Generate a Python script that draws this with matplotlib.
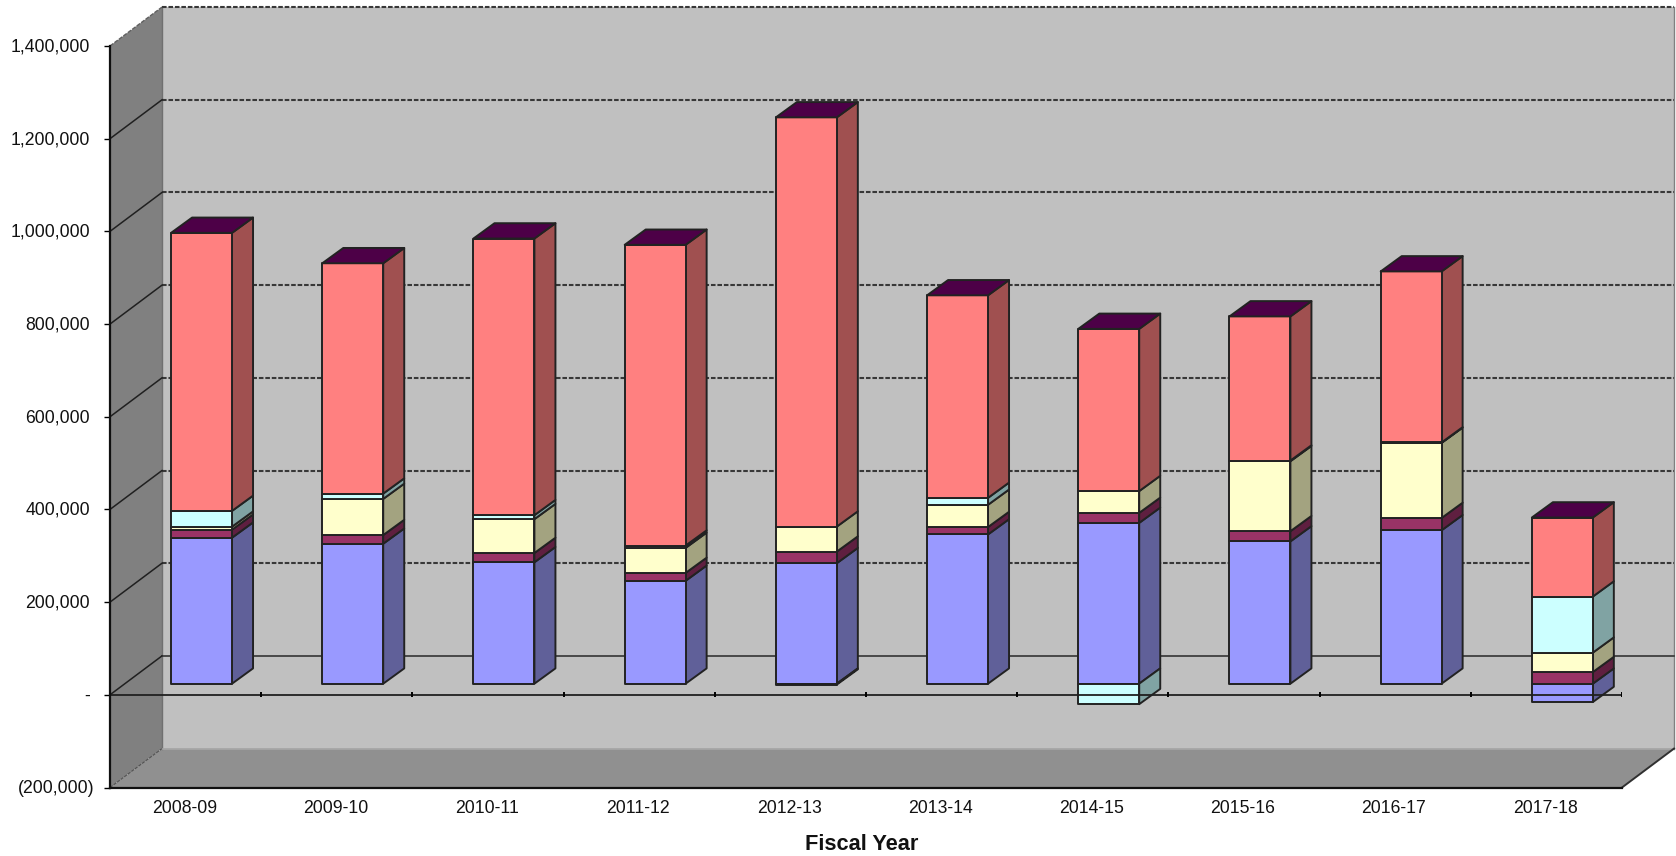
import matplotlib
matplotlib.use('Agg')
import matplotlib.pyplot as plt
from matplotlib.ticker import FuncFormatter
from matplotlib.transforms import ScaledTranslation

plt.rcParams['font.family'] = ['Liberation Sans', 'DejaVu Sans']

years = ['2008-09', '2009-10', '2010-11', '2011-12', '2012-13',
         '2013-14', '2014-15', '2015-16', '2016-17', '2017-18']

# stacked series, bottom to top
blue = [315000, 302000, 262000, 222000, 260000, 322000, 347000, 307000, 331000, -39700]
maroon = [17300, 18700, 20000, 17000, 25000, 16000, 21600, 22000, 26600, 25000]
yellow = [6500, 78000, 73000, 54000, 54000, 48000, 47000, 151000, 162000, 42000]
cyan = [34000, 11500, 8600, 5000, -2000, 15000, -44200, 1500, 1000, 121000]
red = [600000, 497000, 597000, 649000, 883000, 437000, 350000, 311000, 369000, 170600]

series = [
    (blue, '#9999FF', '#606099'),
    (maroon, '#993366', '#5F1F40'),
    (yellow, '#FFFFCC', '#A3A380'),
    (cyan, '#CCFFFF', '#80A3A3'),
    (red, '#FF8080', '#A05050'),
]
top_color = '#4D0047'

y_ticks = [-200000, 0, 200000, 400000, 600000, 800000, 1000000, 1200000, 1400000]

# oblique depth, in axis units
wall_dx, wall_dy = 0.344, 84000
plane_dx, plane_dy = 0.106, 24000
bar_dx, bar_dy = 0.139, 33000
bar_w = 0.403
y_min, y_max = -200000, 1400000


def fmt_value(v, pos=None):
    if v == 0:
        return '-'
    if v < 0:
        return '({:,.0f})'.format(-v)
    return '{:,.0f}'.format(v)


W, H = 1676, 856
fig = plt.figure(figsize=(W / 100, H / 100), dpi=100, facecolor='white')
ax = fig.add_axes([110 / W, 1 - 787.5 / H, (1622 - 110) / W, (787.5 - 46) / H])
ax.set_xlim(0, len(years))
ax.set_ylim(y_min, y_max)
ax.patch.set_visible(False)

# walls
ax.fill([wall_dx, 10 + wall_dx, 10 + wall_dx, wall_dx],
        [y_min + wall_dy, y_min + wall_dy, y_max + wall_dy, y_max + wall_dy],
        color='#C0C0C0', lw=0, clip_on=False, zorder=1)
ax.fill([0, wall_dx, wall_dx, 0],
        [y_min, y_min + wall_dy, y_max + wall_dy, y_max],
        color='#808080', lw=0, clip_on=False, zorder=1)
ax.fill([0, 10, 10 + wall_dx, wall_dx],
        [y_min, y_min, y_min + wall_dy, y_min + wall_dy],
        color='#909090', lw=0, clip_on=False, zorder=1)

# wall edges
ax.plot([wall_dx, wall_dx], [y_min + wall_dy, y_max + wall_dy], color='#707070', lw=1.0, clip_on=False, zorder=2)
ax.plot([wall_dx, 10 + wall_dx], [y_min + wall_dy, y_min + wall_dy], color='#A8A8A8', lw=1.2, clip_on=False, zorder=2)
ax.plot([10 + wall_dx, 10 + wall_dx], [y_min + wall_dy, y_max + wall_dy], color='#808080', lw=1.0, clip_on=False, zorder=2)
ax.plot([10, 10 + wall_dx], [y_min, y_min + wall_dy], color='#303030', lw=1.4, clip_on=False, zorder=2)
ax.plot([0, wall_dx], [y_min, y_min + wall_dy], color='#505050', lw=0.8, ls=(0, (3, 1)), clip_on=False, zorder=2)

# gridlines
for t in y_ticks[1:]:
    if t == 0:
        ax.plot([wall_dx, 10 + wall_dx], [wall_dy, wall_dy], color='#484848', lw=1.4, clip_on=False, zorder=2)
    else:
        ax.plot([wall_dx, 10 + wall_dx], [t + wall_dy, t + wall_dy], color='#383838', lw=1.5,
                ls=(0, (2.2, 0.9)), clip_on=False, zorder=2)
    if t == y_max:
        ax.plot([0, wall_dx], [t, t + wall_dy], color='#606060', lw=1.0, ls=(0, (3, 1)), clip_on=False, zorder=2)
    else:
        ax.plot([0, wall_dx], [t, t + wall_dy], color='#202020', lw=1.1, clip_on=False, zorder=2)

# bars
for i in range(len(years)):
    left = i + 0.298 + plane_dx
    right = left + bar_w
    pos_base = plane_dy
    neg_base = plane_dy
    for values, face, side in series:
        v = values[i]
        if v >= 0:
            y0, y1 = pos_base, pos_base + v
            pos_base = y1
        else:
            y0, y1 = neg_base + v, neg_base
            neg_base = y0
        ax.fill([right, right + bar_dx, right + bar_dx, right],
                [y0, y0 + bar_dy, y1 + bar_dy, y1],
                facecolor=side, edgecolor='#222222', lw=1.4, joinstyle='round', zorder=3)
        ax.fill([left, right, right, left], [y0, y0, y1, y1],
                facecolor=face, edgecolor='#222222', lw=1.4, joinstyle='round', zorder=3)
    ax.fill([left, right, right + bar_dx, left + bar_dx],
            [pos_base, pos_base, pos_base + bar_dy, pos_base + bar_dy],
            facecolor=top_color, edgecolor='#222222', lw=1.4, joinstyle='round', zorder=3)

# zero axis with its ticks, runs over the bars
ax.plot([0, 10], [0, 0], color='#202020', lw=1.3, zorder=4)
ax.vlines(range(len(years) + 1), -5000, 5000, color='black', lw=1.4, zorder=4)

# axes
for name in ['top', 'right']:
    ax.spines[name].set_visible(False)
for name in ['left', 'bottom']:
    ax.spines[name].set_linewidth(1.6)
    ax.spines[name].set_color('#101010')
    ax.spines[name].set_zorder(5)

ax.set_yticks(y_ticks)
ax.yaxis.set_major_formatter(FuncFormatter(fmt_value))
ax.tick_params(axis='y', length=4, width=1.0, pad=10.5, labelsize=12.7, labelcolor='#111111')
ax.set_xticks([i + 0.492 for i in range(len(years))])
ax.set_xticklabels(years)
ax.tick_params(axis='x', length=0, pad=9, labelsize=12.7, labelcolor='#111111')

# bracketed label hangs a little past the others, all sit a touch high
fig.canvas.draw()
for label, t in zip(ax.get_yticklabels(), y_ticks):
    dx = 5 if t < 0 else 0
    label.set_transform(label.get_transform() + ScaledTranslation(dx / 100, 1 / 100, fig.dpi_scale_trans))

fig.text(862 / W, 1 - 845 / H, 'Fiscal Year', fontsize=15.7, fontweight='bold',
         ha='center', va='center', color='#111111')

fig.savefig('out.png', dpi=100, facecolor='white')
